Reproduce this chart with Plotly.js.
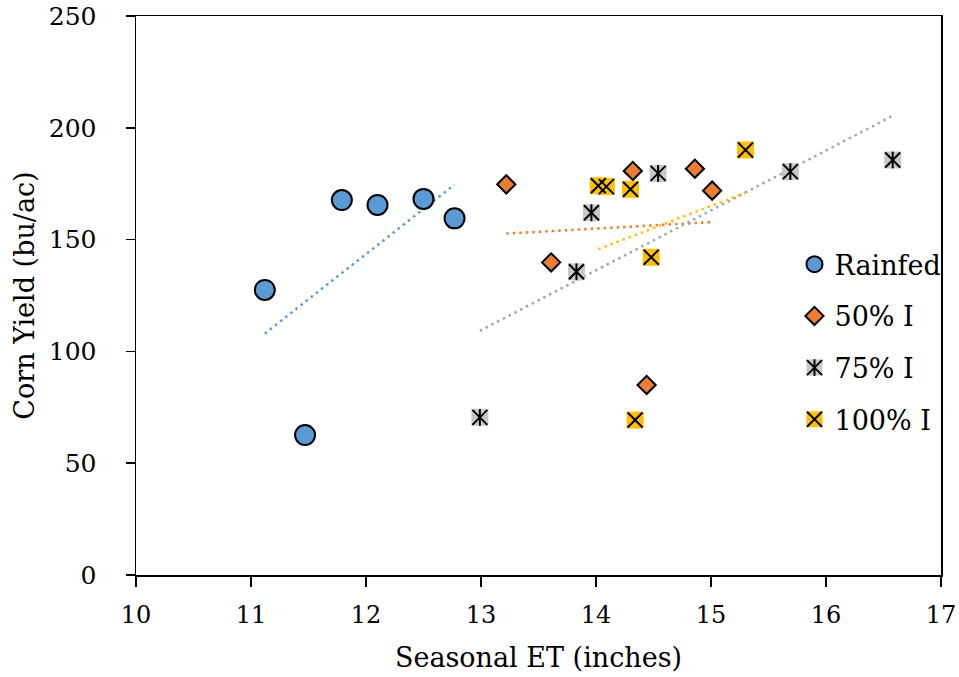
<!DOCTYPE html>
<html>
<head>
<meta charset="utf-8">
<script src="https://cdn.plot.ly/plotly-3.0.1.min.js"></script>
<style>
  html, body { margin: 0; padding: 0; background: #ffffff; }
  #chart { width: 959px; height: 677px; }
</style>
</head>
<body>
<div id="chart"></div>
<script>
// ---- data ----
var seriesNames = ['Rainfed', '50% I', '75% I', '100% I'];

var rainfedET    = [11.12, 11.47, 11.79, 12.10, 12.50, 12.77];
var rainfedYield = [127.5, 62.6, 167.7, 165.5, 168.2, 159.5];

var i50ET    = [13.22, 13.61, 14.32, 14.44, 14.86, 15.01];
var i50Yield = [174.7, 139.8, 180.7, 85.0, 181.7, 171.9];

var i75ET    = [12.99, 13.83, 13.96, 14.54, 15.69, 16.58];
var i75Yield = [70.5, 135.6, 162.0, 179.6, 180.4, 185.6];

var i100ET    = [14.02, 14.09, 14.30, 14.34, 14.48, 15.30];
var i100Yield = [174.1, 173.7, 172.5, 69.3, 142.1, 190.1];

var xTickVals = [10, 11, 12, 13, 14, 15, 16, 17];
var yTickVals = [0, 50, 100, 150, 200, 250];

// ---- linear trendline (least squares), spanning the series' ET range ----
function trend(xs, ys) {
  var n = xs.length, mx = 0, my = 0;
  for (var i = 0; i < n; i++) { mx += xs[i]; my += ys[i]; }
  mx /= n; my /= n;
  var sxy = 0, sxx = 0;
  for (var j = 0; j < n; j++) { sxy += (xs[j] - mx) * (ys[j] - my); sxx += (xs[j] - mx) * (xs[j] - mx); }
  var b = sxy / sxx, a = my - b * mx;
  var x0 = Math.min.apply(null, xs), x1 = Math.max.apply(null, xs);
  return { x: [x0, x1], y: [a + b * x0, a + b * x1] };
}

var C_BLUE = '#5B9BD5', C_ORANGE = '#ED7D31', C_GRAY = '#A5A5A5', C_YELLOW = '#FFC000';
var FONT = 'DejaVu Serif, Liberation Serif, serif';

function trendTrace(xs, ys, color) {
  var t = trend(xs, ys);
  return { type: 'scatter', mode: 'lines', x: t.x, y: t.y, showlegend: false, hoverinfo: 'skip',
           line: { color: color, width: 2.5, dash: '2.5px,4px' } };
}

var traces = [
  trendTrace(rainfedET, rainfedYield, C_BLUE),
  trendTrace(i50ET, i50Yield, C_ORANGE),
  trendTrace(i75ET, i75Yield, C_GRAY),
  trendTrace(i100ET, i100Yield, C_YELLOW),

  { type: 'scatter', mode: 'markers', name: seriesNames[0], x: rainfedET, y: rainfedYield,
    legend: 'legend', legendgroup: 'a1',
    marker: { symbol: 'circle', size: 20, color: C_BLUE, line: { color: '#000', width: 2 } } },
  { type: 'scatter', mode: 'markers', name: seriesNames[1], x: i50ET, y: i50Yield,
    legend: 'legend', legendgroup: 'a2',
    marker: { symbol: 'diamond', size: 14, color: C_ORANGE, line: { color: '#000', width: 2 } } },
  { type: 'scatter', mode: 'markers', name: seriesNames[2], x: i75ET, y: i75Yield,
    legend: 'legend', legendgroup: 'a3',
    marker: { symbol: 'square', size: 17, color: '#C8C8C8', line: { width: 0 } } },
  { type: 'scatter', mode: 'markers', name: seriesNames[3], x: i100ET, y: i100Yield,
    legend: 'legend', legendgroup: 'a4',
    marker: { symbol: 'square', size: 17, color: C_YELLOW, line: { width: 0 } } },

  // overlays: X for 75% and 100%, vertical bar for 75%
  { type: 'scatter', mode: 'markers', name: seriesNames[2], x: i75ET, y: i75Yield,
    legend: 'legend2', legendgroup: 'b3', hoverinfo: 'skip',
    marker: { symbol: 'x-thin-open', size: 15, color: '#000', line: { color: '#000', width: 2 } } },
  { type: 'scatter', mode: 'markers', name: seriesNames[3], x: i100ET, y: i100Yield,
    legend: 'legend2', legendgroup: 'b4', hoverinfo: 'skip',
    marker: { symbol: 'x-thin-open', size: 15, color: '#000', line: { color: '#000', width: 2 } } },
  { type: 'scatter', mode: 'markers', name: seriesNames[2], x: i75ET, y: i75Yield,
    legend: 'legend3', legendgroup: 'c3', hoverinfo: 'skip',
    marker: { symbol: 'line-ns-open', size: 12, color: '#000', line: { color: '#000', width: 2 } } }
];

var legendFont = { family: FONT, size: 27, color: '#000' };
var hiddenFont = { family: FONT, size: 27, color: 'rgba(0,0,0,0)' };
var legendX = 0.818, legendTop = 0.599, pitch = 51.7 / 559;

var layout = {
  width: 959, height: 677,
  paper_bgcolor: '#ffffff', plot_bgcolor: '#ffffff',
  margin: { l: 136, r: 18, t: 16, b: 102, autoexpand: false },
  font: { family: FONT, color: '#000' },
  xaxis: {
    range: [10, 17], tickvals: xTickVals, ticktext: xTickVals.map(String),
    showgrid: false, zeroline: false,
    showline: true, linecolor: '#000', linewidth: 1.5, mirror: true,
    ticks: 'outside', ticklen: 10, tickwidth: 1.5, tickcolor: '#000',
    ticklabelstandoff: 8,
    tickfont: { family: FONT, size: 24, color: '#000' },
    title: { text: 'Seasonal ET (inches)', font: { family: FONT, size: 27, color: '#000' }, standoff: 20 }
  },
  yaxis: {
    range: [0, 250], tickvals: yTickVals, ticktext: yTickVals.map(String),
    showgrid: false, zeroline: false,
    showline: true, linecolor: '#000', linewidth: 1.5, mirror: true,
    ticks: 'outside', ticklen: 9, tickwidth: 1.5, tickcolor: '#000',
    ticklabelstandoff: 24,
    tickfont: { family: FONT, size: 25, color: '#000' },
    title: { text: 'Corn Yield (bu/ac)', font: { family: FONT, size: 27, color: '#000' }, standoff: 6 }
  },
  legend: { x: legendX, y: legendTop, xanchor: 'left', yanchor: 'top', bgcolor: 'rgba(0,0,0,0)',
            font: legendFont, tracegroupgap: 13.6, itemsizing: 'trace' },
  legend2: { x: legendX, y: legendTop - 2 * pitch, xanchor: 'left', yanchor: 'top', bgcolor: 'rgba(0,0,0,0)',
             font: hiddenFont, tracegroupgap: 13.6, itemsizing: 'trace' },
  legend3: { x: legendX, y: legendTop - 2 * pitch, xanchor: 'left', yanchor: 'top', bgcolor: 'rgba(0,0,0,0)',
             font: hiddenFont, tracegroupgap: 13.6, itemsizing: 'trace' },
  showlegend: true
};

Plotly.newPlot('chart', traces, layout, { displayModeBar: false, staticPlot: true });
</script>
</body>
</html>
